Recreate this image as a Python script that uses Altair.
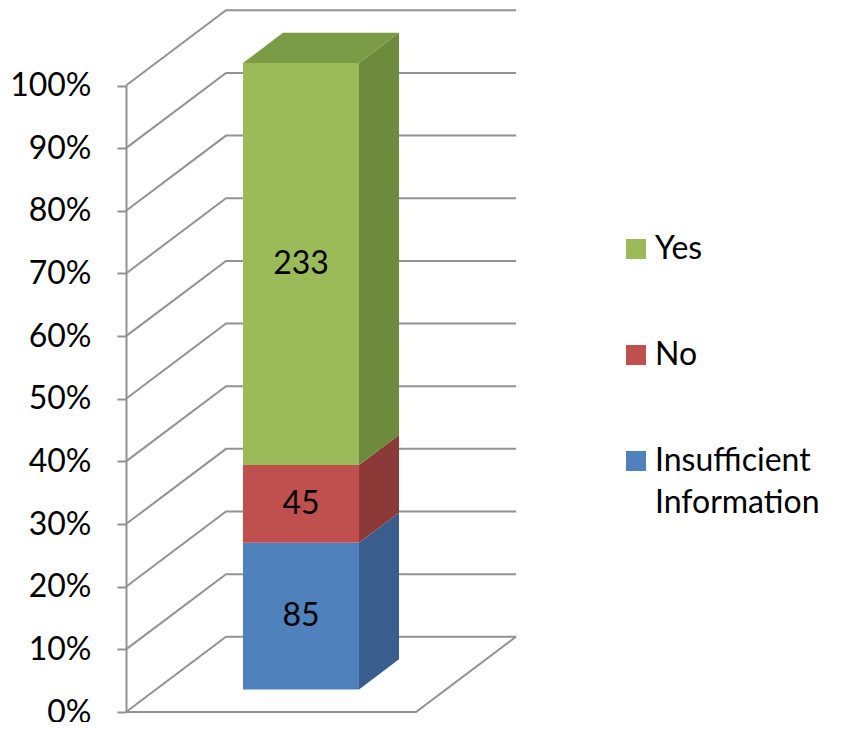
import altair as alt
import pandas as pd

# ---- data ----
categories = ["Insufficient Information", "No", "Yes"]   # bottom -> top
counts = [85, 45, 233]
front_colors = ["#4F81BD", "#C0504D", "#9BBB59"]
side_colors = ["#395D8C", "#8B3A38", "#6E8B3D"]
top_color = "#7B9B46"
legend_order = ["Yes", "No", "Insufficient Information"]
tick_values = [0, 10, 20, 30, 40, 50, 60, 70, 80, 90, 100]

# ---- 3-D geometry (x in front-plane units, y in percent) ----
FRONT_W = 290.0      # width of the floor front edge
DEPTH_X = 100.0      # horizontal shift of the back wall
DEPTH_Y = 12.0       # vertical shift (percent) of the back wall
BAR_L, BAR_R = 0.3, 0.7   # bar position across the category band
BAR_F, BAR_B = 0.3, 0.7   # bar position in depth
GRID = "#929292"
FONT = "Lato"

total = sum(counts)
pcts = [c / total * 100 for c in counts]
starts, ends = [], []
acc = 0.0
for p in pcts:
    starts.append(acc)
    acc += p
    ends.append(acc)

fx, fy = BAR_F * DEPTH_X, BAR_F * DEPTH_Y
bx, by = BAR_B * DEPTH_X, BAR_B * DEPTH_Y
xl, xr = BAR_L * FRONT_W, BAR_R * FRONT_W

front = pd.DataFrame({
    "cat": categories,
    "x": [xl + fx] * 3, "x2": [xr + fx] * 3,
    "y": [fy + s for s in starts], "y2": [fy + e for e in ends],
    "count": counts,
})
front["ym"] = (front["y"] + front["y2"]) / 2
front["xm"] = (front["x"] + front["x2"]) / 2

side_rows = []
for cat, s, e, col in zip(categories, starts, ends, side_colors):
    side_rows.append({"cat": cat, "x": xr + fx, "y": fy + s, "y2": fy + e, "col": col})
    side_rows.append({"cat": cat, "x": xr + bx, "y": by + s, "y2": by + e, "col": col})
side = pd.DataFrame(side_rows)

top = pd.DataFrame({
    "y": [fy + ends[-1], by + ends[-1]],
    "x": [xl + fx, xl + bx],
    "x2": [xr + fx, xr + bx],
})

grid_rows = []
for v in tick_values:
    grid_rows.append({"lvl": v, "x": 0.0, "y": float(v)})
    grid_rows.append({"lvl": v, "x": DEPTH_X, "y": v + DEPTH_Y})
    grid_rows.append({"lvl": v, "x": DEPTH_X + FRONT_W, "y": v + DEPTH_Y})
grid = pd.DataFrame(grid_rows)

floor = pd.DataFrame({"x": [0.0, FRONT_W, FRONT_W + DEPTH_X], "y": [0.0, 0.0, DEPTH_Y]})

xscale = alt.Scale(domain=[0, FRONT_W + DEPTH_X], nice=False, zero=False)
yscale = alt.Scale(domain=[0, 100], range=[702, 75.5], nice=False, zero=False)
yaxis = alt.Axis(values=tick_values, labelExpr="datum.value + '%'", title=None,
                 grid=False, domainColor=GRID, domainWidth=2, tickColor=GRID,
                 tickWidth=2, tickSize=9, labelPadding=26, labelFont=FONT,
                 labelFontSize=32, labelColor="black")

X = lambda f="x": alt.X(f"{f}:Q", scale=xscale, axis=None)
Y = lambda f="y": alt.Y(f"{f}:Q", scale=yscale, axis=yaxis)

grid_layer = alt.Chart(grid).mark_line(color=GRID, strokeWidth=2).encode(
    x=X(), y=Y(), detail="lvl:N")
floor_layer = alt.Chart(floor).mark_line(color=GRID, strokeWidth=2).encode(x=X(), y=Y())

side_layer = alt.Chart(side).mark_area(opacity=1).encode(
    x=X(), y=Y(), y2="y2:Q", detail="cat:N",
    color=alt.Color("col:N", scale=None))

top_layer = alt.Chart(top).mark_area(orient="horizontal", color=top_color, opacity=1).encode(
    y=Y(), x=X(), x2="x2:Q")

front_layer = alt.Chart(front).mark_rect().encode(
    x=X(), x2="x2:Q", y=Y(), y2="y2:Q",
    color=alt.Color("cat:N",
                    scale=alt.Scale(domain=categories, range=front_colors),
                    sort=legend_order,
                    legend=alt.Legend(
                        orient="none", legendX=494, legendY=223, title=None,
                        values=legend_order,
                        symbolType="square", symbolSize=400, symbolStrokeWidth=0,
                        labelFont=FONT, labelFontSize=32, labelColor="black",
                        labelLimit=0, labelOffset=3, rowPadding=74, padding=0,
                        labelExpr="datum.label == 'Insufficient Information' ? ['Insufficient', 'Information'] : datum.label",
                    )))

text_layer = alt.Chart(front).mark_text(font=FONT, fontSize=32, color="black",
                                        align="center", baseline="middle").encode(
    x=X("xm"), y=Y("ym"), text="count:Q")

chart = alt.layer(grid_layer, floor_layer, side_layer, top_layer, front_layer, text_layer).properties(
    width=390, height=702,
    background="white",
    autosize=alt.AutoSizeParams(type="none"),
    padding={"left": 118, "top": 2, "right": 316, "bottom": 10},
).configure(
    view=alt.ViewConfig(strokeWidth=0, strokeOpacity=0),
    style={"guide-label": {"lineHeight": 42}},
)

chart.save("out.html", embed_options={"renderer": "svg", "actions": False})
